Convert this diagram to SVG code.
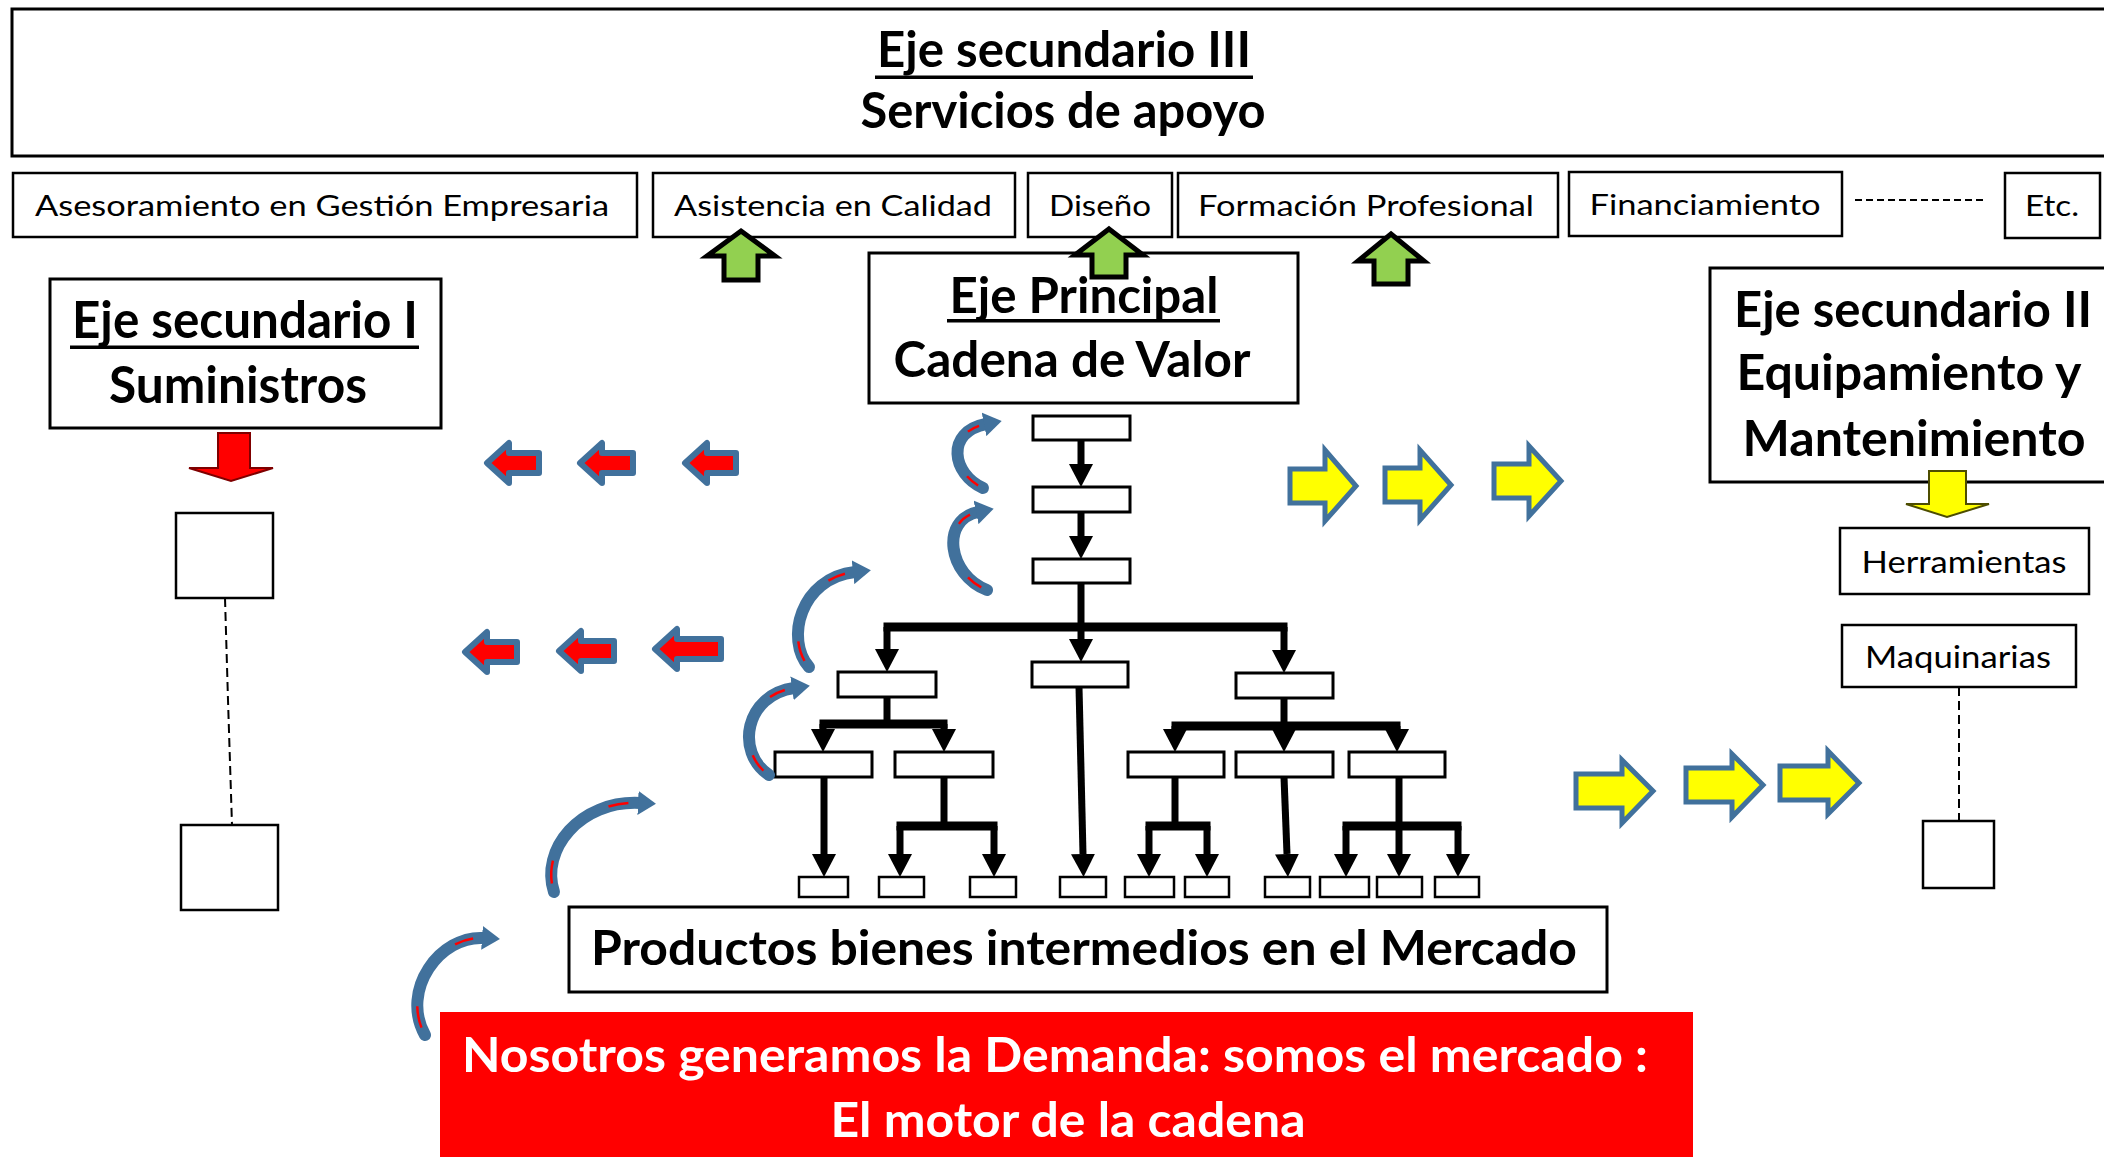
<svg xmlns="http://www.w3.org/2000/svg" width="2104" height="1157" viewBox="0 0 2104 1157">
<defs>
<style>
.box{fill:#fff;stroke:#000;stroke-width:3}
.sbox{fill:#fff;stroke:#000;stroke-width:2.5}
.t{font-family:Lato,"Liberation Sans",sans-serif;fill:#000}
.b{font-weight:bold}
.mid{text-anchor:middle}
.ul{fill:#000}
.conn{fill:none;stroke:#000;stroke-width:7}
.bar{fill:none;stroke:#000;stroke-width:9}
.dash{fill:none;stroke:#000;stroke-width:2;stroke-dasharray:9 5}
.green{fill:#92D050;stroke:#000;stroke-width:5;stroke-linejoin:miter}
.yel{fill:#FFFF00;stroke:#41719C;stroke-width:5;stroke-linejoin:miter}
.red{fill:#FF0000;stroke:#41719C;stroke-width:6;stroke-linejoin:round}
.curve{fill:none;stroke:#41719C;stroke-width:12;stroke-linecap:round}
.curvein{fill:none;stroke:#FF0000;stroke-width:2.5;stroke-dasharray:0 6 16 56 14 8}
</style>
<marker id="ah" viewBox="0 0 23 24" markerWidth="23" markerHeight="24" refX="0" refY="12" orient="auto" markerUnits="userSpaceOnUse">
<path d="M0,0 L23,12 L0,24 z" fill="#000"/>
</marker>
<marker id="bh" viewBox="0 0 18 24" markerWidth="18" markerHeight="24" refX="2" refY="12" orient="auto" markerUnits="userSpaceOnUse">
<path d="M0,0 L18,12 L0,24 z" fill="#41719C"/>
</marker>
</defs>
<rect width="2104" height="1157" fill="#fff"/>

<g id="eje-secundario-III">
<rect class="box" x="12" y="9" width="2096" height="147"/>
<text class="t b mid" x="1064" y="67" font-size="50" textLength="374" lengthAdjust="spacingAndGlyphs">Eje secundario III</text>
<rect class="ul" x="875" y="75.5" width="378" height="3.5"/>
<text class="t b mid" x="1063" y="128" font-size="50" textLength="405" lengthAdjust="spacingAndGlyphs">Servicios de apoyo</text>
</g>

<g id="servicio-asesoramiento">
<rect class="sbox" x="13" y="173" width="624" height="64"/>
<text class="t mid" x="322" y="216" font-size="29" textLength="574" lengthAdjust="spacingAndGlyphs">Asesoramiento en Gestión Empresaria</text>
</g>
<g id="servicio-calidad">
<rect class="sbox" x="653" y="173" width="362" height="64"/>
<text class="t mid" x="833" y="216" font-size="29" textLength="318" lengthAdjust="spacingAndGlyphs">Asistencia en Calidad</text>
</g>
<g id="servicio-diseno">
<rect class="sbox" x="1028" y="173" width="144" height="64"/>
<text class="t mid" x="1100" y="216" font-size="29" textLength="102" lengthAdjust="spacingAndGlyphs">Diseño</text>
</g>
<g id="servicio-formacion">
<rect class="sbox" x="1178" y="173" width="380" height="64"/>
<text class="t mid" x="1366" y="216" font-size="29" textLength="336" lengthAdjust="spacingAndGlyphs">Formación Profesional</text>
</g>
<g id="servicio-financiamiento">
<rect class="sbox" x="1569" y="172" width="273" height="64"/>
<text class="t mid" x="1705" y="215" font-size="29" textLength="231" lengthAdjust="spacingAndGlyphs">Financiamiento</text>
</g>
<g id="servicio-etc">
<rect class="sbox" x="2005" y="173" width="95" height="65"/>
<text class="t mid" x="2052" y="216" font-size="29" textLength="54" lengthAdjust="spacingAndGlyphs">Etc.</text>
</g>

<g id="eje-secundario-I">
<rect class="box" x="50" y="279" width="391" height="149"/>
<text class="t b mid" x="245" y="338" font-size="51" textLength="346" lengthAdjust="spacingAndGlyphs">Eje secundario I</text>
<rect class="ul" x="70" y="345.5" width="349" height="3.5"/>
<text class="t b mid" x="238" y="403" font-size="51" textLength="258" lengthAdjust="spacingAndGlyphs">Suministros</text>
</g>

<g id="eje-principal">
<rect class="box" x="869" y="253" width="429" height="150"/>
<text class="t b mid" x="1084" y="313" font-size="50" textLength="269" lengthAdjust="spacingAndGlyphs">Eje Principal</text>
<rect class="ul" x="947" y="319" width="273" height="3.5"/>
<text class="t b mid" x="1072" y="377" font-size="50" textLength="357" lengthAdjust="spacingAndGlyphs">Cadena de Valor</text>
</g>

<g id="eje-secundario-II">
<rect class="box" x="1710" y="268" width="400" height="214"/>
<text class="t b mid" x="1913" y="327" font-size="50" textLength="358" lengthAdjust="spacingAndGlyphs">Eje secundario II</text>
<text class="t b mid" x="1909" y="390" font-size="50" textLength="345" lengthAdjust="spacingAndGlyphs">Equipamiento y</text>
<text class="t b mid" x="1914" y="456" font-size="50" textLength="343" lengthAdjust="spacingAndGlyphs">Mantenimiento</text>
</g>

<g id="herramientas">
<rect class="sbox" x="1840" y="528" width="249" height="66"/>
<text class="t mid" x="1964" y="573" font-size="30" textLength="205" lengthAdjust="spacingAndGlyphs">Herramientas</text>
</g>
<g id="maquinarias">
<rect class="sbox" x="1842" y="625" width="234" height="62"/>
<text class="t mid" x="1958" y="668" font-size="30" textLength="186" lengthAdjust="spacingAndGlyphs">Maquinarias</text>
</g>
<g id="maquinaria-item">
<rect class="sbox" x="1923" y="821" width="71" height="67"/>
</g>

<g id="suministro-item-1"><rect class="sbox" x="176" y="513" width="97" height="85"/></g>
<g id="suministro-item-2"><rect class="sbox" x="181" y="825" width="97" height="85"/></g>

<g id="cadena-tree">
<rect class="box" x="1033" y="416" width="97" height="24"/>
<rect class="box" x="1033" y="487" width="97" height="25"/>
<rect class="box" x="1033" y="559" width="97" height="24"/>
<rect class="box" x="838" y="672" width="98" height="25"/>
<rect class="box" x="1032" y="662" width="96" height="25"/>
<rect class="box" x="1236" y="673" width="97" height="25"/>
<rect class="box" x="775" y="752" width="97" height="25"/>
<rect class="box" x="895" y="752" width="98" height="25"/>
<rect class="box" x="1128" y="752" width="96" height="25"/>
<rect class="box" x="1236" y="752" width="97" height="25"/>
<rect class="box" x="1349" y="752" width="96" height="25"/>
<rect class="sbox" x="799" y="877" width="49" height="20"/>
<rect class="sbox" x="879" y="877" width="45" height="20"/>
<rect class="sbox" x="970" y="877" width="46" height="20"/>
<rect class="sbox" x="1060" y="877" width="46" height="20"/>
<rect class="sbox" x="1125" y="877" width="49" height="20"/>
<rect class="sbox" x="1185" y="877" width="44" height="20"/>
<rect class="sbox" x="1265" y="877" width="45" height="20"/>
<rect class="sbox" x="1320" y="877" width="49" height="20"/>
<rect class="sbox" x="1377" y="877" width="45" height="20"/>
<rect class="sbox" x="1435" y="877" width="44" height="20"/>
</g>

<g id="productos">
<rect class="box" x="569" y="907" width="1038" height="85"/>
<text class="t b mid" x="1084" y="965" font-size="48" textLength="986" lengthAdjust="spacingAndGlyphs">Productos bienes intermedios en el Mercado</text>
</g>

<g id="demanda">
<rect x="440" y="1012" width="1253" height="150" fill="#FF0000"/>
<text class="t b mid" x="1055" y="1072" font-size="47" style="fill:#fff" textLength="1186" lengthAdjust="spacingAndGlyphs">Nosotros generamos la Demanda: somos el mercado :</text>
<text class="t b mid" x="1068" y="1137" font-size="47" style="fill:#fff" textLength="475" lengthAdjust="spacingAndGlyphs">El motor de la cadena</text>
</g>

<g id="connectors">
<line class="dash" x1="1855" y1="200" x2="1983" y2="200" style="stroke-dasharray:7 4"/>
<path class="dash" d="M225 598 L228 700 L232 825"/>
<path class="dash" d="M1959 687 V821"/>

<path class="conn" d="M1081 440 V464" marker-end="url(#ah)"/>
<path class="conn" d="M1081 512 V536" marker-end="url(#ah)"/>
<path class="conn" d="M1081 583 V639" marker-end="url(#ah)"/>
<path class="bar" d="M883.5 627 H1287.5"/>
<path class="conn" d="M887 627 V649" marker-end="url(#ah)"/>
<path class="conn" d="M1284 627 V650" marker-end="url(#ah)"/>

<path class="conn" d="M887 697 V724"/>
<path class="bar" d="M819.5 724 H947.5"/>
<path class="conn" d="M823 724 V729" marker-end="url(#ah)"/>
<path class="conn" d="M944 724 V729" marker-end="url(#ah)"/>

<path class="conn" d="M1284 698 V729" marker-end="url(#ah)"/>
<path class="bar" d="M1171.5 726 H1400.5"/>
<path class="conn" d="M1175 726 V729" marker-end="url(#ah)"/>
<path class="conn" d="M1397 726 V729" marker-end="url(#ah)"/>

<path class="conn" d="M824 777 V854" marker-end="url(#ah)"/>
<path class="conn" d="M944 777 V826"/>
<path class="bar" d="M896.5 826 H997.5"/>
<path class="conn" d="M900 826 V854" marker-end="url(#ah)"/>
<path class="conn" d="M994 826 V854" marker-end="url(#ah)"/>
<path class="conn" d="M1079 687 L1083 854" marker-end="url(#ah)"/>
<path class="conn" d="M1175 777 V826"/>
<path class="bar" d="M1145.5 826 H1210.5"/>
<path class="conn" d="M1149 826 V854" marker-end="url(#ah)"/>
<path class="conn" d="M1207 826 V854" marker-end="url(#ah)"/>
<path class="conn" d="M1284 777 L1287 854" marker-end="url(#ah)"/>
<path class="bar" d="M1342.5 826 H1461.5"/>
<path class="conn" d="M1399 777 V854" marker-end="url(#ah)"/>
<path class="conn" d="M1346 826 V854" marker-end="url(#ah)"/>
<path class="conn" d="M1458 826 V854" marker-end="url(#ah)"/>

<polygon class="green" points="741,231 775,256 758,256 758,280 724,280 724,256 707,256"/>
<polygon class="green" points="1109,229 1143,255 1126,255 1126,277 1092,277 1092,255 1075,255"/>
<polygon class="green" points="1391,234 1424,261 1408,261 1408,284 1374,284 1374,261 1358,261"/>

<polygon points="218,433 250,433 250,468 273,468 231,481 189,468 218,468" fill="#FF0000" stroke="#7F0000" stroke-width="2"/>
<polygon points="1929,471 1966,471 1966,504 1989,504 1947,517 1906,504 1929,504" fill="#FFFF00" stroke="#4D4D00" stroke-width="2"/>

<polygon class="red" points="487,463 509,443 509,453 539,453 539,473 509,473 509,483"/>
<polygon class="red" points="580,463 602,443 602,453 633,453 633,473 602,473 602,483"/>
<polygon class="red" points="685,463 707,443 707,453 736,453 736,473 707,473 707,483"/>
<polygon class="red" points="465,652 487,632 487,642 517,642 517,662 487,662 487,672"/>
<polygon class="red" points="559,651 581,631 581,641 614,641 614,661 581,661 581,671"/>
<polygon class="red" points="655,649 677,629 677,639 721,639 721,659 677,659 677,669"/>

<polygon class="yel" points="1290,469 1325,469 1325,450 1356,486 1325,521 1325,503 1290,503"/>
<polygon class="yel" points="1385,468 1420,468 1420,450 1451,485 1420,520 1420,502 1385,502"/>
<polygon class="yel" points="1494,464 1529,464 1529,446 1561,481 1529,516 1529,498 1494,498"/>
<polygon class="yel" points="1576,774 1622,774 1622,760 1653,791 1622,823 1622,808 1576,808"/>
<polygon class="yel" points="1686,768 1732,768 1732,754 1763,785 1732,817 1732,802 1686,802"/>
<polygon class="yel" points="1780,766 1828,766 1828,751 1859,783 1828,814 1828,800 1780,800"/>

<path class="curve" d="M983 488 C952 474 945 432 986 424" marker-end="url(#bh)"/>
<path class="curvein" pathLength="100" d="M983 488 C952 474 945 432 986 424"/>
<path class="curve" d="M987 590 C948 575 940 520 978 512" marker-end="url(#bh)"/>
<path class="curvein" pathLength="100" d="M987 590 C948 575 940 520 978 512"/>
<path class="curve" d="M809 667 C785 640 800 578 855 572" marker-end="url(#bh)"/>
<path class="curvein" pathLength="100" d="M809 667 C785 640 800 578 855 572"/>
<path class="curve" d="M769 775 C735 752 745 695 794 688" marker-end="url(#bh)"/>
<path class="curvein" pathLength="100" d="M769 775 C735 752 745 695 794 688"/>
<path class="curve" d="M554 892 C540 850 580 800 640 803" marker-end="url(#bh)"/>
<path class="curvein" pathLength="100" d="M554 892 C540 850 580 800 640 803"/>
<path class="curve" d="M425 1035 C400 990 440 935 484 938" marker-end="url(#bh)"/>
<path class="curvein" pathLength="100" d="M425 1035 C400 990 440 935 484 938"/>
</g>
</svg>
